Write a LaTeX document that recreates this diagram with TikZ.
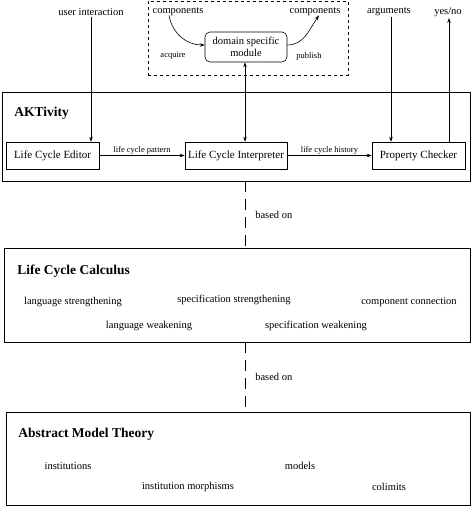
\documentclass[tikz,border=0pt]{standalone}
\usepackage{fontspec}
\setmainfont{Liberation Serif}
\usetikzlibrary{arrows.meta,positioning}
\tikzset{
  frame/.style={draw, inner sep=0pt},
  unitbox/.style={draw, minimum height=27pt, inner sep=0pt, font=\fontsize{11}{13}\selectfont},
  lbl/.style={inner sep=1pt, font=\fontsize{10.5}{12}\selectfont},
  small/.style={inner sep=1pt, font=\fontsize{8.5}{10}\selectfont},
  title/.style={anchor=west, inner sep=0pt, font=\fontsize{13.5}{15}\selectfont\bfseries},
  arr/.style={-{Stealth[length=5pt,width=3.5pt]}},
  biarr/.style={{Stealth[length=5pt,width=3.5pt]}-{Stealth[length=5pt,width=3.5pt]}}
}

\begin{document}
\begin{tikzpicture}[x=1pt, y=-1pt, line width=0.6pt]
  \useasboundingbox (0,0) rectangle (473,507);
  % top: domain specific module
  \node[frame, dashed, minimum width=200pt, minimum height=74pt] (dsm) at (248,38) {};
  \node[lbl] (compL) at (178,12) {components};
  \node[lbl] (compR) at (315,12) {components};
  \node[draw, rounded corners=5pt, minimum width=82pt, minimum height=30pt, inner sep=0pt,
        align=center, font=\fontsize{10.5}{11.5}\selectfont] (module) at (246,47) {domain specific\\module};
  \node[small] (acq) at (173,56) {acquire};
  \node[small] (pub) at (309,56) {publish};
  \draw[arr] ([xshift=-9pt,yshift=2pt]compL.south) to[out=-80,in=180] ([yshift=2pt]module.west);
  \draw[arr] ([yshift=2pt]module.east) to[out=0,in=-125] ([xshift=4pt,yshift=2pt]compR.south);
  \node[lbl] (ui) at (91,12) {user interaction};
  \node[lbl] (args) at (389,12) {arguments};
  \node[lbl] (yesno) at (448,12) {yes/no};

  % AKTivity
  \node[frame, minimum width=468pt, minimum height=89pt] (akt) at (236,136.5) {};
  \node[title] (akttitle) at (14,113) {AKTivity};
  \node[unitbox, minimum width=93pt] (editor) at (52.5,155.5) {Life Cycle Editor};
  \node[unitbox, minimum width=102pt] (interp) at (236,155.5) {Life Cycle Interpreter};
  \node[unitbox, minimum width=93pt] (checker) at (418.5,155.5) {Property Checker};
  \draw[arr] (editor.east) -- node[small, above] {life cycle pattern} (interp.west);
  \draw[arr] (interp.east) -- node[small, above] {life cycle history} (checker.west);
  \draw[arr] (ui.south) -- (ui.south |- editor.north);
  \draw[arr] ([xshift=2pt]args.south) -- ([xshift=2pt]args.south |- checker.north);
  \draw[arr] ([xshift=1pt]yesno.south |- checker.north) -- ([xshift=1pt]yesno.south);
  \draw[biarr] ([xshift=-1pt]module.south) -- ([xshift=-1pt]module.south |- interp.north);

  % Life Cycle Calculus
  \node[frame, minimum width=466pt, minimum height=94pt] (calc) at (237,295) {};
  \node[title] (calctitle) at (17,271) {Life Cycle Calculus};
  \node[lbl] (lstr) at (73,302) {language strengthening};
  \node[lbl] (sstr) at (234,300) {specification strengthening};
  \node[lbl] (cconn) at (409,302) {component connection};
  \node[lbl] (lweak) at (149,326) {language weakening};
  \node[lbl] (sweak) at (316,326) {specification weakening};
  \draw[dashed, dash pattern=on 11pt off 7pt] ([xshift=-1pt]module.south |- akt.south) -- node[lbl, right=9pt] {based on} ([xshift=-1pt]module.south |- calc.north);

  % Abstract Model Theory
  \node[frame, minimum width=464pt, minimum height=93pt] (amt) at (238,458.5) {};
  \node[title] (amttitle) at (18,434) {Abstract Model Theory};
  \node[lbl] (inst) at (68,466) {institutions};
  \node[lbl] (models) at (300,466) {models};
  \node[lbl] (morph) at (188,487) {institution morphisms};
  \node[lbl] (colim) at (389,487) {colimits};
  \draw[dashed, dash pattern=on 11pt off 7pt] ([xshift=-1pt]module.south |- calc.south) -- node[lbl, right=9pt] {based on} ([xshift=-1pt]module.south |- amt.north);
\end{tikzpicture}
\end{document}
